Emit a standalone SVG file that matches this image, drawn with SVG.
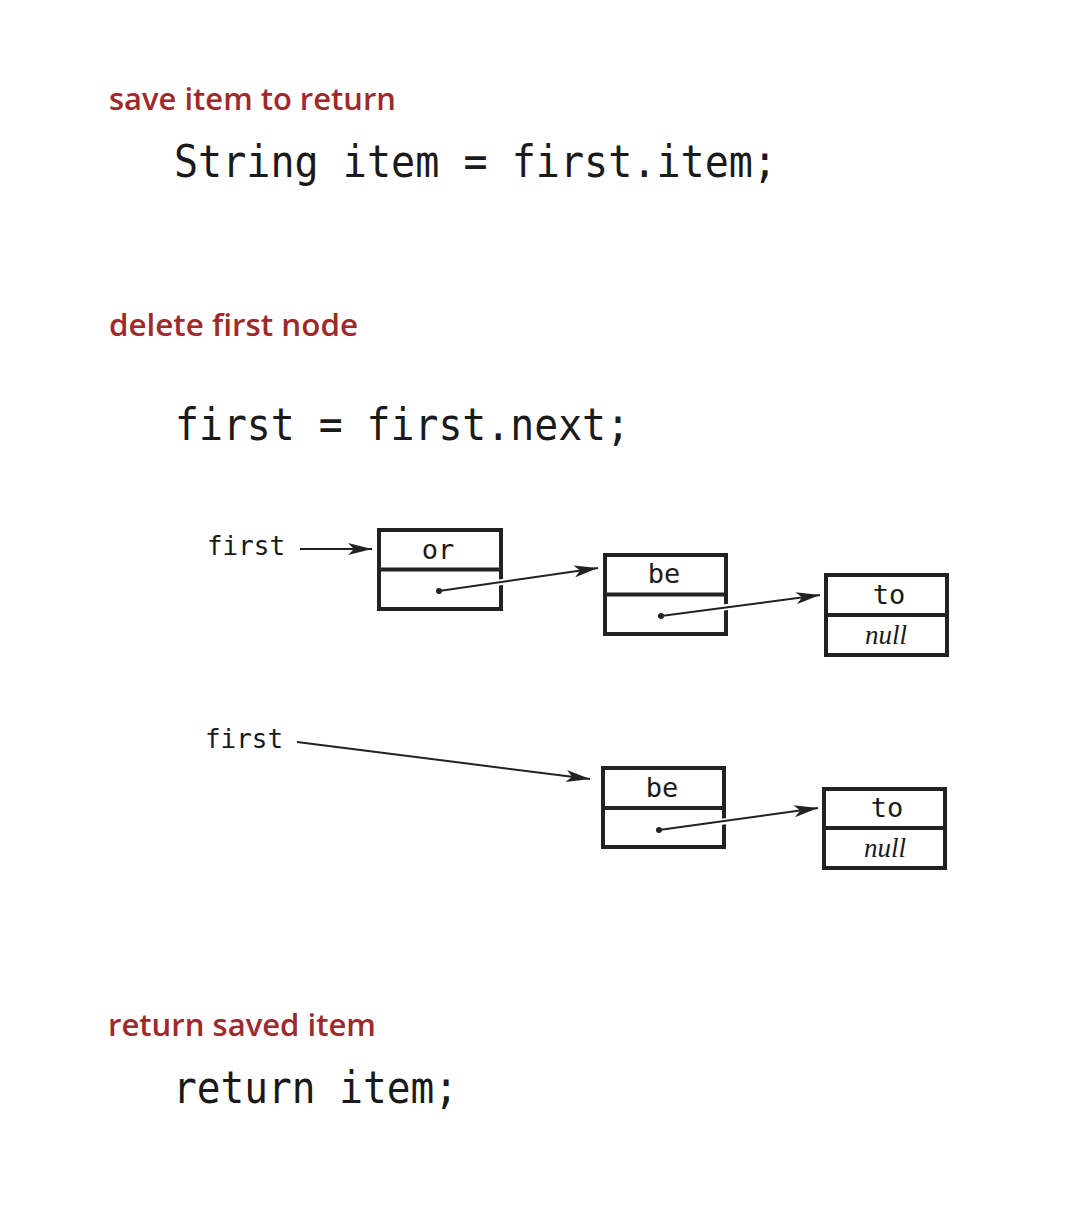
<svg xmlns="http://www.w3.org/2000/svg" width="1082" height="1208" viewBox="0 0 1082 1208">
<style>
.hdr{font-family:"Open Sans","Liberation Sans",sans-serif;font-weight:600;font-size:30px;fill:#9e2a2b}
.code{font-family:"DejaVu Sans Mono","Liberation Mono",monospace;font-size:44px;fill:#1a1a1a}
.lbl{font-family:"DejaVu Sans Mono","Liberation Mono",monospace;font-size:27px;fill:#1a1a1a}
.nul{font-family:"Liberation Serif",serif;font-style:italic;font-size:27px;fill:#1a1a1a}
.box{fill:#fff;stroke:#222;stroke-width:4}
.ln{stroke:#222;stroke-width:2;fill:none}
.halo{stroke:#fff;stroke-width:6;fill:none}
</style>
<defs>
<marker id="ah" viewBox="0 0 24 12" refX="24" refY="6" markerWidth="24" markerHeight="12" markerUnits="userSpaceOnUse" orient="auto">
<path d="M0,0 L24,6 L0,12 L6,6 Z" fill="#222"/>
</marker>
</defs>
<rect width="1082" height="1208" fill="#fff"/>
<text class="hdr" x="109" y="110" textLength="287" lengthAdjust="spacingAndGlyphs">save item to return</text>
<text class="code" x="174" y="177" textLength="603" lengthAdjust="spacingAndGlyphs">String item = first.item;</text>
<text class="hdr" x="109" y="336" textLength="249" lengthAdjust="spacingAndGlyphs">delete first node</text>
<text class="code" x="175" y="440" textLength="455" lengthAdjust="spacingAndGlyphs">first = first.next;</text>
<text class="hdr" x="108" y="1036" textLength="268" lengthAdjust="spacingAndGlyphs">return saved item</text>
<text class="code" x="173" y="1103" textLength="285" lengthAdjust="spacingAndGlyphs">return item;</text>

<g id="node-or">
<rect class="box" x="379" y="530" width="122" height="79"/>
<line class="box" x1="379" y1="569.5" x2="501" y2="569.5"/>
<text class="lbl" x="438" y="559" text-anchor="middle">or</text>
</g>
<g id="node-be1">
<rect class="box" x="605" y="555" width="121" height="79"/>
<line class="box" x1="605" y1="594.5" x2="726" y2="594.5"/>
<text class="lbl" x="664" y="583" text-anchor="middle">be</text>
</g>
<g id="node-to1">
<rect class="box" x="826" y="575" width="121" height="80"/>
<line class="box" x1="826" y1="615" x2="947" y2="615"/>
<text class="lbl" x="889" y="604" text-anchor="middle">to</text>
<text class="nul" x="886" y="644" text-anchor="middle">null</text>
</g>
<g id="node-be2">
<rect class="box" x="603" y="768" width="121" height="79"/>
<line class="box" x1="603" y1="808" x2="724" y2="808"/>
<text class="lbl" x="662" y="797" text-anchor="middle">be</text>
</g>
<g id="node-to2">
<rect class="box" x="824" y="789" width="121" height="79"/>
<line class="box" x1="824" y1="828" x2="945" y2="828"/>
<text class="lbl" x="887" y="817" text-anchor="middle">to</text>
<text class="nul" x="885" y="857" text-anchor="middle">null</text>
</g>
<g id="first-labels">
<text class="lbl" x="207" y="555" textLength="78" lengthAdjust="spacingAndGlyphs">first</text>
<text class="lbl" x="205" y="748" textLength="78" lengthAdjust="spacingAndGlyphs">first</text>
</g>
<g id="connectors">
<line class="ln" x1="300" y1="549" x2="372" y2="549" marker-end="url(#ah)"/>
<line class="halo" x1="460" y1="588" x2="560" y2="574"/>
<line class="ln" x1="439" y1="591" x2="598" y2="568" marker-end="url(#ah)"/>
<circle cx="439" cy="591" r="3" fill="#222"/>
<line class="halo" x1="690" y1="612" x2="780" y2="600"/>
<line class="ln" x1="661" y1="616" x2="820" y2="595" marker-end="url(#ah)"/>
<circle cx="661" cy="616" r="3" fill="#222"/>
<line class="ln" x1="297" y1="742" x2="590" y2="779" marker-end="url(#ah)"/>
<line class="halo" x1="690" y1="826" x2="780" y2="814"/>
<line class="ln" x1="659" y1="830" x2="818" y2="808" marker-end="url(#ah)"/>
<circle cx="659" cy="830" r="3" fill="#222"/>
</g>
</svg>
